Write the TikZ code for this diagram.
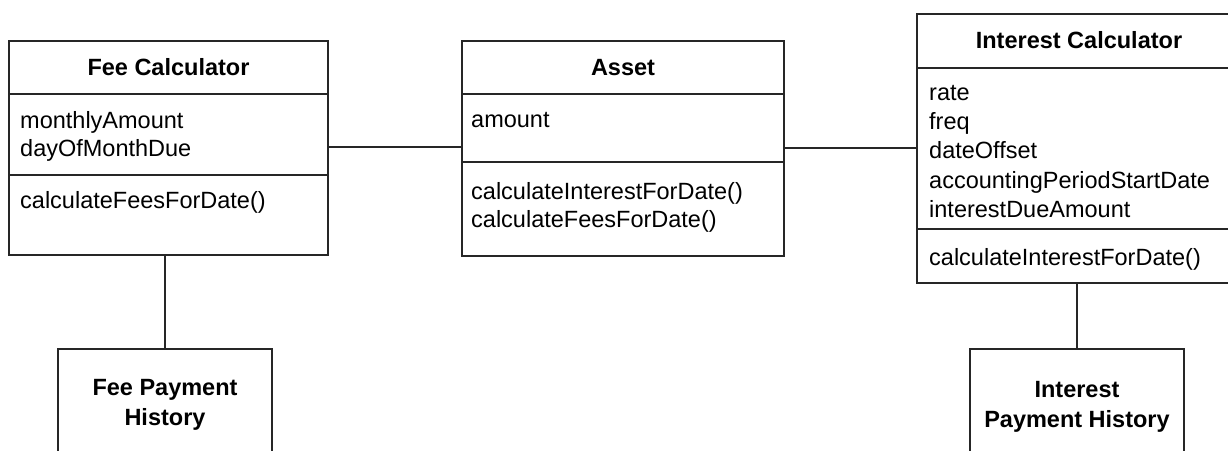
\documentclass[tikz,border=0pt]{standalone}
\usepackage{fontspec}
\setmainfont{Liberation Sans}
\begin{document}
\begin{tikzpicture}[x=1pt,y=-1pt,
  comp/.style={draw=black!85, line width=1.3pt, rectangle, inner sep=0pt, outer sep=0pt, anchor=north west},
  txt/.style={font=\fontsize{23.5}{28}\selectfont, inner sep=0pt, anchor=base west},
  ttl/.style={font=\fontsize{23.5}{28}\selectfont\bfseries, inner sep=0pt, anchor=base},
  conn/.style={draw=black!85, line width=1.3pt}]
\useasboundingbox (0,0) rectangle (1228,450);
\clip (0,0) rectangle (1228,450);
% Fee Calculator
\node[comp, minimum width=319pt, minimum height=53pt] (fcT) at (9,41) {};
\node[comp, minimum width=319pt, minimum height=81pt] (fcA) at (9,94) {};
\node[comp, minimum width=319pt, minimum height=80pt] (fcM) at (9,175) {};
\node[ttl] (fcTt) at (168.5,75) {Fee Calculator};
\node[txt] (fcA1) at (20,128) {monthlyAmount};
\node[txt] (fcA2) at (20,156) {dayOfMonthDue};
\node[txt] (fcM1) at (20,208) {calculateFeesForDate()};
% Asset
\node[comp, minimum width=322pt, minimum height=53pt] (asT) at (462,41) {};
\node[comp, minimum width=322pt, minimum height=68pt] (asA) at (462,94) {};
\node[comp, minimum width=322pt, minimum height=94pt] (asM) at (462,162) {};
\node[ttl] (asTt) at (623,75) {Asset};
\node[txt] (asA1) at (471,127) {amount};
\node[txt] (asM1) at (471,199) {calculateInterestForDate()};
\node[txt] (asM2) at (471,227) {calculateFeesForDate()};
% Interest Calculator
\node[comp, minimum width=324pt, minimum height=54pt] (icT) at (917,14) {};
\node[comp, minimum width=324pt, minimum height=161pt] (icA) at (917,68) {};
\node[comp, minimum width=324pt, minimum height=54pt] (icM) at (917,229) {};
\node[ttl] (icTt) at (1079,48) {Interest Calculator};
\node[txt] (icA1) at (929,100) {rate};
\node[txt] (icA2) at (929,129) {freq};
\node[txt] (icA3) at (929,158) {dateOffset};
\node[txt] (icA4) at (929,188) {accountingPeriodStartDate};
\node[txt] (icA5) at (929,217) {interestDueAmount};
\node[txt] (icM1) at (929,265) {calculateInterestForDate()};
% Payment histories
\node[comp, minimum width=214pt, minimum height=150pt] (fph) at (58,349) {};
\node[ttl] (fph1) at (165,395) {Fee Payment};
\node[ttl] (fph2) at (165,425) {History};
\node[comp, minimum width=214pt, minimum height=150pt] (iph) at (970,349) {};
\node[ttl] (iph1) at (1077,397) {Interest};
\node[ttl] (iph2) at (1077,427) {Payment History};
% connectors
\coordinate (l1) at (0,147);
\coordinate (l2) at (0,148);
\draw[conn] (fcA.east |- l1) -- (asA.west |- l1);
\draw[conn] (asA.east |- l2) -- (icA.west |- l2);
\draw[conn] (fph.north |- fcM.south) -- (fph.north);
\draw[conn] (iph.north |- icM.south) -- (iph.north);
\end{tikzpicture}
\end{document}
